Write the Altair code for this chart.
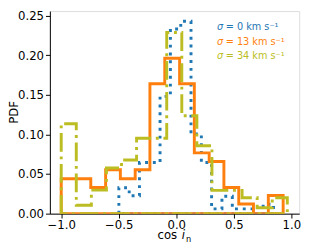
import altair as alt
import pandas as pd

# ---- data ----
SERIES = ["s0", "s13", "s34"]
LEGEND_TEXT = ["= 0 km s⁻¹", "= 13 km s⁻¹", "= 34 km s⁻¹"]
COLORS = ["#1f77b4", "#ff7f0e", "#bcbd22"]

BLUE_EDGES = [-0.499, -0.409, -0.320, -0.230, -0.141, -0.051, 0.039, 0.128,
              0.218, 0.307, 0.397, 0.487, 0.576, 0.666, 0.755, 0.845]
BLUE_PDF = [0.0327, 0.0225, 0.0645, 0.0645, 0.148, 0.233, 0.2427, 0.1004,
            0.0645, 0.006, 0.022, 0.006, 0.006, 0.0, 0.0119]

ORANGE_EDGES = [-1.0, -0.871, -0.743, -0.614, -0.486, -0.357, -0.229, -0.100,
                0.029, 0.157, 0.286, 0.414, 0.543, 0.671, 0.800, 0.929]
ORANGE_PDF = [0.044, 0.044, 0.033, 0.0555, 0.044, 0.0555, 0.164, 0.196,
              0.164, 0.0767, 0.0657, 0.033, 0.0122, 0.0, 0.0229]

GREEN_EDGES = [-1.0, -0.869, -0.738, -0.607, -0.476, -0.345, -0.214, -0.083,
               0.048, 0.179, 0.310, 0.441, 0.572, 0.703, 0.834, 0.965]
GREEN_PDF = [0.1135, 0.0106, 0.0297, 0.0575, 0.0677, 0.0951, 0.0951, 0.2285,
             0.1236, 0.0857, 0.0294, 0.0294, 0.020, 0.0075, 0.020]

X_TICKS = [-1.0, -0.5, 0.0, 0.5, 1.0]
Y_TICKS = [0.0, 0.05, 0.10, 0.15, 0.20, 0.25]


def step_outline(name, edges, vals):
    # closed outline like matplotlib histtype="step"
    rows = [(edges[0], 0.0)]
    for i, h in enumerate(vals):
        rows.append((edges[i], h))
        rows.append((edges[i + 1], h))
    rows.append((edges[-1], 0.0))
    rows.append((edges[0], 0.0))
    return [{"series": name, "i": k, "x": x, "y": y} for k, (x, y) in enumerate(rows)]


records = (step_outline("s0", BLUE_EDGES, BLUE_PDF)
           + step_outline("s13", ORANGE_EDGES, ORANGE_PDF)
           + step_outline("s34", GREEN_EDGES, GREEN_PDF))
df = pd.DataFrame(records)

FONT = "DejaVu Sans"
W, H = 256, 208

xscale = alt.Scale(domain=[-1.0985, 1.0685], nice=False, zero=False)
yscale = alt.Scale(domain=[0, 0.2556], nice=False, zero=False)

xaxis = alt.Axis(values=X_TICKS, format=".1f", title=None, grid=False,
                 domainColor="black", tickColor="black", tickSize=4.5,
                 labelColor="black", labelFont=FONT, labelFontSize=12,
                 labelPadding=2)
yaxis = alt.Axis(values=Y_TICKS, format=".2f", title=None, grid=False,
                 domainColor="black", tickColor="black", tickSize=4.5,
                 labelColor="black", labelFont=FONT, labelFontSize=12,
                 labelPadding=2)

DASHES = {"s0": [3, 5], "s13": [1, 0], "s34": [19.2, 4.8, 3, 4.8]}

layers = []
for idx, s in enumerate(SERIES):
    layers.append(
        alt.Chart(df).transform_filter(alt.datum.series == s)
        .mark_line(color=COLORS[idx], strokeWidth=3, strokeDash=DASHES[s],
                   strokeCap="butt", strokeJoin="miter", clip=True)
        .encode(x=alt.X("x:Q", scale=xscale, axis=xaxis),
                y=alt.Y("y:Q", scale=yscale, axis=yaxis),
                order=alt.Order("i:Q"))
    )

# legend (coloured text, no handles)
LEG_X = 171.5
LEG_Y = [16.3, 31.6, 46.2]
for idx, lab in enumerate(LEGEND_TEXT):
    one = pd.DataFrame({"sym": ["σ"], "lab": [lab]})
    layers.append(alt.Chart(one).mark_text(
        align="left", baseline="middle", font=FONT, fontSize=10,
        fontStyle="italic", color=COLORS[idx], x=LEG_X, y=LEG_Y[idx]
    ).encode(text="sym:N"))
    layers.append(alt.Chart(one).mark_text(
        align="left", baseline="middle", font=FONT, fontSize=10,
        color=COLORS[idx], x=LEG_X + 9, y=LEG_Y[idx]
    ).encode(text="lab:N"))

# axis titles
tt = pd.DataFrame({"a": ["cos"], "b": ["i"], "c": ["n"], "d": ["PDF"]})
layers.append(alt.Chart(tt).mark_text(align="left", baseline="alphabetic",
              font=FONT, fontSize=12, color="black", x=110.5, y=234.2)
              .encode(text="a:N"))
layers.append(alt.Chart(tt).mark_text(align="left", baseline="alphabetic",
              font=FONT, fontSize=12, fontStyle="italic", color="black",
              x=135.5, y=234.2).encode(text="b:N"))
layers.append(alt.Chart(tt).mark_text(align="left", baseline="alphabetic",
              font=FONT, fontSize=8.5, color="black", x=139.8, y=237.2)
              .encode(text="c:N"))
layers.append(alt.Chart(tt).mark_text(align="center", baseline="middle",
              font=FONT, fontSize=12, color="black", angle=270,
              x=-37, y=H / 2).encode(text="d:N"))

chart = alt.layer(*layers).properties(
    width=W, height=H,
    autosize=alt.AutoSizeParams(type="none"),
    padding={"left": 43, "top": 0, "right": 8, "bottom": 28},
).configure_view(stroke="black", strokeWidth=1).configure(background="white")

chart.save("out.html", embed_options={"renderer": "svg", "actions": False})
